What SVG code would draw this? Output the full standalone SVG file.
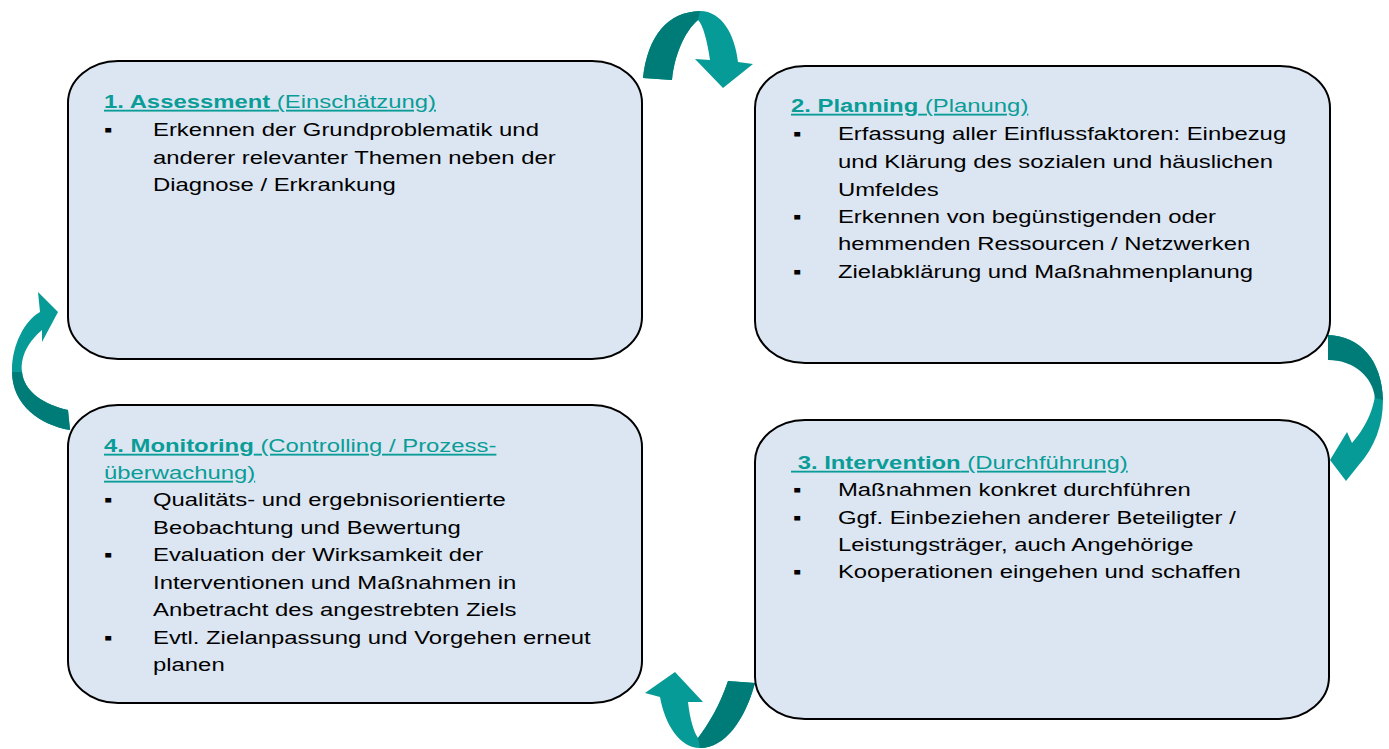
<svg xmlns="http://www.w3.org/2000/svg" width="1389" height="749" viewBox="0 0 1389 749">
<style>
.box{fill:#dce6f2;stroke:#000;stroke-width:2}
.t{font-family:"Liberation Sans",Arial,sans-serif;font-size:18.5px;fill:#000}
.h{font-family:"Liberation Sans",Arial,sans-serif;font-size:18.5px;fill:#0a9d98;text-decoration:underline}
.b{font-weight:bold}
.al{fill:#079b97}
.ad{fill:#007c78}
</style>
<rect width="1389" height="749" fill="#fff"/>
<g id="connectors">
  <g id="arrow-top">
    <path class="al" d="M643,78 C648,35 668,12 700,11 C722,11 735,35 738,62 L753,64 L723,88 L695,59 L710,60 C707,40 703,25 698,20 C688,28 675,50 672,80 Z"/>
    <path class="ad" d="M643,78 C648,35 668,12 700,11 L698,20 C688,28 675,50 672,80 Z"/>
  </g>
  <g id="arrow-right">
    <path class="al" d="M1328,335 C1360,336 1382,360 1383,400 C1383,425 1375,447 1358,466 L1346,481 L1330,460 L1347,432 L1352,443 C1368,425 1377,402 1375,385 C1372,370 1355,360 1328,360 Z"/>
    <path class="ad" d="M1328,335 C1360,336 1382,360 1383,400 L1375,398 C1373,378 1355,360 1328,360 Z"/>
  </g>
  <g id="arrow-left">
    <path class="al" d="M70,430 C40,425 12,405 12,370 C12,345 25,320 40,312 L38,292 L58,312 L42,342 L42,330 C30,340 20,355 22,372 C24,392 45,405 68,410 Z"/>
    <path class="ad" d="M70,430 C40,425 12,405 12,372 L22,372 C24,392 45,405 68,410 Z"/>
  </g>
  <g id="arrow-bottom">
    <path class="al" d="M755,683 C745,720 725,748 700,748 C680,748 665,725 660,697 L645,693 L675,672 L703,702 L688,702 C690,720 694,732 698,738 C708,725 720,705 728,681 Z"/>
    <path class="ad" d="M755,683 C745,720 725,748 700,748 L698,738 C708,725 720,705 728,681 Z"/>
  </g>
</g>
<g id="node1">
  <rect class="box" x="68" y="61" width="574" height="298" rx="50" ry="42"/>
  <g transform="translate(104,0) scale(1.29,1)">
    <text class="h" x="0" y="108"><tspan class="b">1. Assessment</tspan> (Einschätzung)</text>
    <text class="t" x="0" y="136">▪</text>
    <text class="t" x="38" y="136">Erkennen der Grundproblematik und</text>
    <text class="t" x="38" y="164">anderer relevanter Themen neben der</text>
    <text class="t" x="38" y="191">Diagnose / Erkrankung</text>
  </g>
</g>
<g id="node2">
  <rect class="box" x="755" y="66" width="575" height="297" rx="50" ry="42"/>
  <g transform="translate(791,0) scale(1.29,1)">
    <text class="h" x="0" y="112"><tspan class="b">2. Planning</tspan> (Planung)</text>
    <text class="t" x="1.5" y="140">▪</text>
    <text class="t" x="36.4" y="140">Erfassung aller Einflussfaktoren: Einbezug</text>
    <text class="t" x="36.4" y="168">und Klärung des sozialen und häuslichen</text>
    <text class="t" x="36.4" y="196">Umfeldes</text>
    <text class="t" x="1.5" y="223">▪</text>
    <text class="t" x="36.4" y="223">Erkennen von begünstigenden oder</text>
    <text class="t" x="36.4" y="250">hemmenden Ressourcen / Netzwerken</text>
    <text class="t" x="1.5" y="278">▪</text>
    <text class="t" x="36.4" y="278">Zielabklärung und Maßnahmenplanung</text>
  </g>
</g>
<g id="node3">
  <rect class="box" x="755" y="420" width="574" height="299" rx="50" ry="42"/>
  <g transform="translate(791,0) scale(1.29,1)">
    <text class="h" x="0" y="469" xml:space="preserve"><tspan class="b"> 3. Intervention</tspan> (Durchführung)</text>
    <text class="t" x="1.5" y="496">▪</text>
    <text class="t" x="36.4" y="496">Maßnahmen konkret durchführen</text>
    <text class="t" x="1.5" y="524">▪</text>
    <text class="t" x="36.4" y="524">Ggf. Einbeziehen anderer Beteiligter /</text>
    <text class="t" x="36.4" y="551">Leistungsträger, auch Angehörige</text>
    <text class="t" x="1.5" y="578">▪</text>
    <text class="t" x="36.4" y="578">Kooperationen eingehen und schaffen</text>
  </g>
</g>
<g id="node4">
  <rect class="box" x="68" y="405" width="574" height="298" rx="50" ry="42"/>
  <g transform="translate(104,0) scale(1.29,1)">
    <text class="h" x="0" y="452"><tspan class="b">4. Monitoring</tspan> (Controlling / Prozess-</text>
    <text class="h" x="0" y="479">überwachung)</text>
    <text class="t" x="0" y="506">▪</text>
    <text class="t" x="38" y="506">Qualitäts- und ergebnisorientierte</text>
    <text class="t" x="38" y="534">Beobachtung und Bewertung</text>
    <text class="t" x="0" y="561">▪</text>
    <text class="t" x="38" y="561">Evaluation der Wirksamkeit der</text>
    <text class="t" x="38" y="589">Interventionen und Maßnahmen in</text>
    <text class="t" x="38" y="616">Anbetracht des angestrebten Ziels</text>
    <text class="t" x="0" y="644">▪</text>
    <text class="t" x="38" y="644">Evtl. Zielanpassung und Vorgehen erneut</text>
    <text class="t" x="38" y="671">planen</text>
  </g>
</g>
</svg>
